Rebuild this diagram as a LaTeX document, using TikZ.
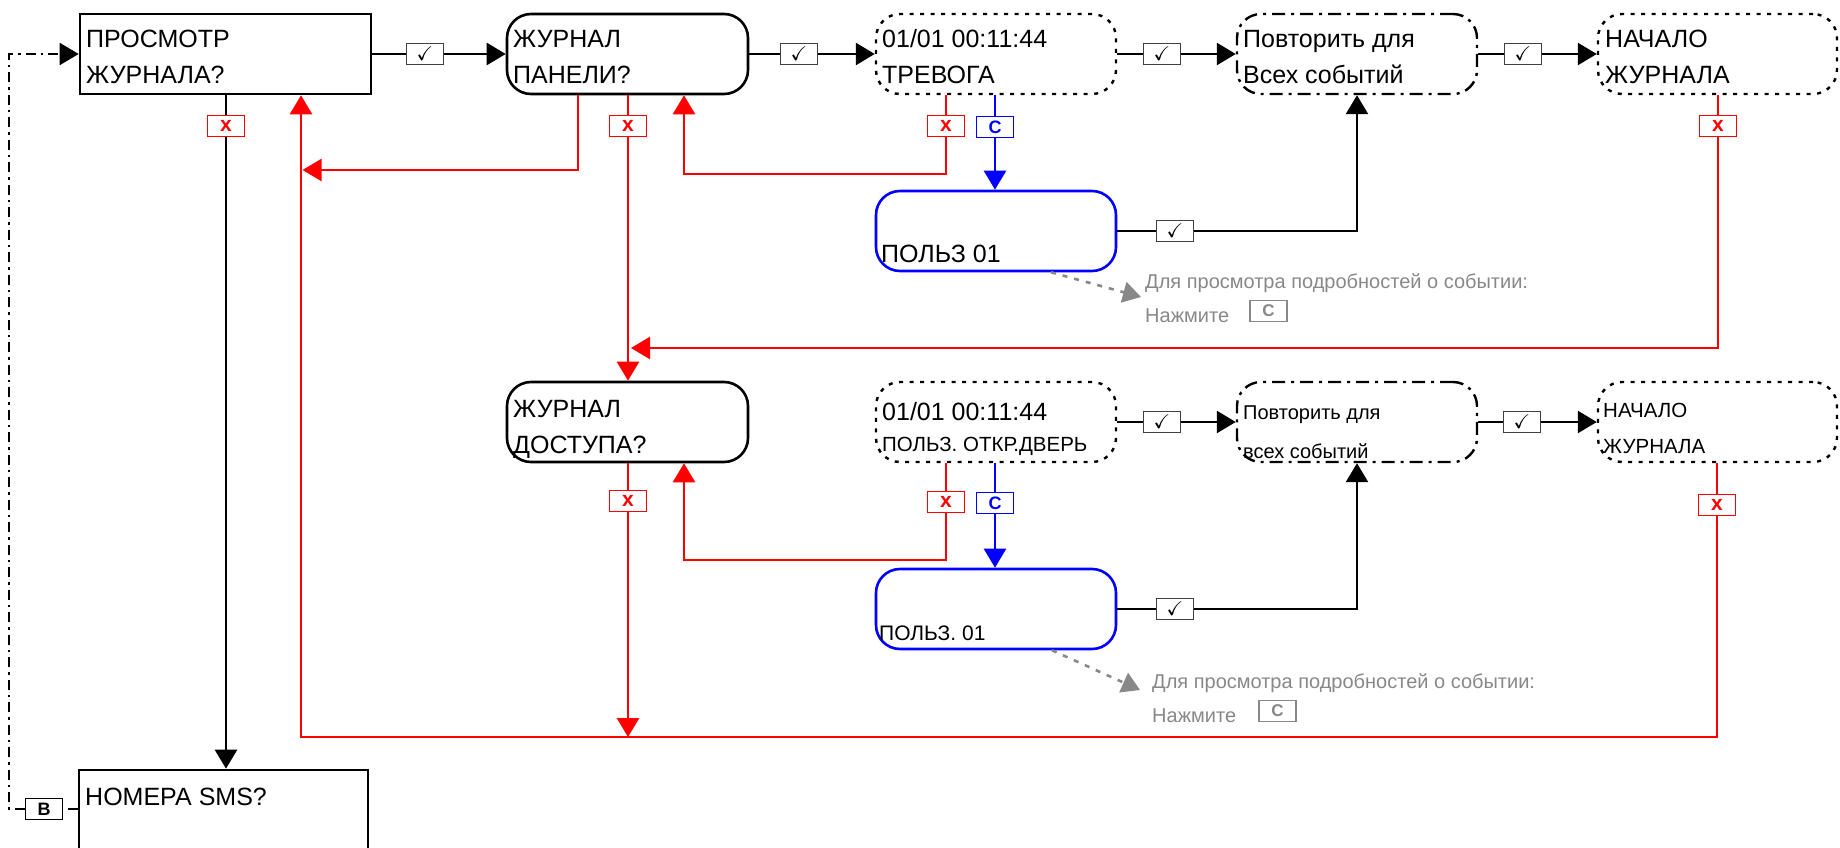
\documentclass[tikz,border=0pt]{standalone}
\usepackage{amssymb}
\usepackage{fontspec}
\setmainfont{Liberation Sans}
\usetikzlibrary{arrows.meta,positioning,calc}
\definecolor{hintgray}{RGB}{136,136,136}
\tikzset{
  panel/.style={rectangle, draw=black, line width=2.6pt, minimum height=80pt, inner sep=0pt},
  menu/.style={panel, rounded corners=24pt},
  event/.style={menu, line width=2.4pt, dash pattern=on 4pt off 6.5pt},
  loopbox/.style={menu, line width=2.4pt, dash pattern=on 13pt off 6pt on 3pt off 6pt},
  user/.style={menu, draw=blue},
  % base = baseline of the last line
  txt/.style={anchor=base west, inner sep=0pt, align=left, font=\fontsize{25}{36}\selectfont},
  txtsmall/.style={txt, font=\fontsize{20.5}{36}\selectfont},
  okkey/.style={rectangle, draw=black!75, line width=1.3pt, fill=white,
    minimum width=37pt, minimum height=21pt, inner sep=0pt, font=\fontsize{20}{20}\selectfont},
  nokey/.style={okkey, draw=red, text=red, font=\bfseries\fontsize{21}{21}\selectfont},
  ckey/.style={okkey, draw=blue, text=blue, font=\bfseries\fontsize{18}{18}\selectfont},
  bkey/.style={okkey, draw=black, text=black, font=\bfseries\fontsize{18}{18}\selectfont},
  graykey/.style={okkey, draw=hintgray, text=hintgray, font=\bfseries\fontsize{17}{17}\selectfont},
  hint/.style={anchor=base west, inner sep=0pt, text=hintgray, font=\fontsize{20}{20}\selectfont},
  conn/.style={line width=2.6pt, black},
  arr/.style={conn, -{Triangle[length=19pt,width=22pt]}},
  nline/.style={line width=2.6pt, red},
  back/.style={arr, red},
  cline/.style={line width=2.6pt, blue},
  carr/.style={arr, blue},
  ddline/.style={line width=1.8pt, dash pattern=on 10pt off 5pt on 2.5pt off 5pt},
  ddarr/.style={ddline, -{Triangle[length=19pt,width=22pt]}},
  hintarr/.style={draw=hintgray, line width=2.6pt, dash pattern=on 5pt off 7pt,
    -{Triangle[length=18pt,width=21pt]}},
}

\begin{document}
\begin{tikzpicture}[x=1pt, y=-1pt]
  \useasboundingbox (0,0) rectangle (1840,848);
  \clip (0,0) rectangle (1840,848);

  % first row
  \node[panel, minimum width=291pt] (aPanel) at (225.5,54) {};
  \node[menu, minimum width=241pt] (bPanel) at (627.5,54) {};
  \node[event, minimum width=240pt] (cEvent) at (996,54) {};
  \node[loopbox, minimum width=240pt] (dLoop) at (1357,54) {};
  \node[event, minimum width=239pt] (eEvent) at (1717.5,54) {};
  % second row
  \node[menu, minimum width=241pt] (fPanel) at (627.5,422) {};
  \node[event, minimum width=240pt] (gEvent) at (996,422) {};
  \node[loopbox, minimum width=240pt] (hLoop) at (1357,422) {};
  \node[event, minimum width=239pt] (iEvent) at (1717.5,422) {};
  % user detail screens
  \node[user, minimum width=240pt] (jUser) at (996,231) {};
  \node[user, minimum width=240pt] (kUser) at (996,609) {};
  % next menu
  \node[panel, minimum width=289pt, minimum height=96pt] (sPanel) at (223.5,818) {};

  % texts
  \node[txt] (aText) at (86,84) {ПРОСМОТР\\ЖУРНАЛА?};
  \node[txt] (bText) at (513,84) {ЖУРНАЛ\\ПАНЕЛИ?};
  \node[txt] (cText) at (882,84) {01/01 00:11:44\\ТРЕВОГА};
  \node[txt] (dText) at (1243,84) {Повторить для\\Всех событий};
  \node[txt] (eText) at (1605,84) {НАЧАЛО\\ЖУРНАЛА};
  \node[txt] (fText) at (513,453) {ЖУРНАЛ\\ДОСТУПА?};
  \node[txt, font=\fontsize{25}{31}\selectfont] (gText) at (882,451)
    {01/01 00:11:44\\{\fontsize{20.5}{31}\selectfont ПОЛЬЗ. ОТКР.ДВЕРЬ}};
  \node[txtsmall, font=\fontsize{20}{39}\selectfont] (hText) at (1243,458) {Повторить для\\всех событий};
  \node[txtsmall] (iText) at (1603,453) {НАЧАЛО\\ЖУРНАЛА};
  \node[txt] (jText) at (881,262) {ПОЛЬЗ 01};
  \node[txt, font=\fontsize{21}{21}\selectfont] (kText) at (879,640) {ПОЛЬЗ. 01};
  \node[txt] (sText) at (85,805) {НОМЕРА SMS?};

  % keys
  \node[okkey] (okAB) at (425,54) {$\checkmark$};
  \node[okkey] (okBC) at (799,54) {$\checkmark$};
  \node[okkey] (okCD) at (1162,54) {$\checkmark$};
  \node[okkey] (okDE) at (1523,54) {$\checkmark$};
  \node[okkey] (okGH) at (1162,422) {$\checkmark$};
  \node[okkey] (okHI) at (1522,422) {$\checkmark$};
  \node[okkey] (okJ) at (1175,231) {$\checkmark$};
  \node[okkey] (okK) at (1175,609) {$\checkmark$};
  \node[nokey] (noA) at (226,126) {x};
  \node[nokey] (noB) at (628,126) {x};
  \node[nokey] (noC) at (946,126) {x};
  \node[ckey] (keyC) at (995,127) {C};
  \node[nokey] (noE) at (1718,126) {x};
  \node[nokey] (noF) at (628,501) {x};
  \node[nokey] (noG) at (946,502) {x};
  \node[ckey] (keyG) at (995,503) {C};
  \node[nokey] (noI) at (1717,505) {x};
  \node[bkey] (keyB) at (44,809) {B};

  % forward steps
  \draw[conn] (aPanel.east) -- (okAB.west);
  \draw[arr] (okAB.east) -- (bPanel.west);
  \draw[conn] (bPanel.east) -- (okBC.west);
  \draw[arr] (okBC.east) -- (cEvent.west);
  \draw[conn] (cEvent.east) -- (okCD.west);
  \draw[arr] (okCD.east) -- (dLoop.west);
  \draw[conn] (dLoop.east) -- (okDE.west);
  \draw[arr] (okDE.east) -- (eEvent.west);
  \draw[conn] (gEvent.east) -- (okGH.west);
  \draw[arr] (okGH.east) -- (hLoop.west);
  \draw[conn] (hLoop.east) -- (okHI.west);
  \draw[arr] (okHI.east) -- (iEvent.west);
  \draw[conn] (jUser.east) -- (okJ.west);
  \draw[arr] (okJ.east) -| (dLoop.south);
  \draw[conn] (kUser.east) -- (okK.west);
  \draw[arr] (okK.east) -| (hLoop.south);
  \draw[conn] (aPanel.south -| noA) -- (noA.north);
  \draw[arr] (noA.south) -- (noA.south |- sPanel.north);

  % details key
  \draw[cline] (cEvent.south -| keyC) -- (keyC.north);
  \draw[carr] (keyC.south) -- (keyC.south |- jUser.north);
  \draw[cline] (gEvent.south -| keyG) -- (keyG.north);
  \draw[carr] (keyG.south) -- (keyG.south |- kUser.north);

  % going back
  \coordinate (backAll) at (301,737);
  \coordinate (backB) at (578,170);
  \coordinate (backC) at (684,174);
  \coordinate (backE) at (631,348);
  \coordinate (backG) at (684,560);
  \draw[nline] (iEvent.south -| noI) -- (noI.north);
  \draw[back] (noI.south) |- (backAll) -- (backAll |- aPanel.south);
  \draw[back] (bPanel.south -| backB) -- (backB) -- ([xshift=1.5pt]backB -| backAll);
  \draw[nline] (bPanel.south -| noB) -- (noB.north);
  \draw[back] (noB.south) -- (noB.south |- fPanel.north);
  \draw[nline] (cEvent.south -| noC) -- (noC.north);
  \draw[back] (noC.south) |- (backC) -- (backC |- bPanel.south);
  \draw[nline] (eEvent.south -| noE) -- (noE.north);
  \draw[back] (noE.south) |- (backE);
  \draw[nline] (fPanel.south -| noF) -- (noF.north);
  \draw[back] (noF.south) -- (noF.south |- backAll);
  \draw[nline] (gEvent.south -| noG) -- (noG.north);
  \draw[back] (noG.south) |- (backG) -- (backG |- fPanel.south);

  % return to the start
  \coordinate (loopLeft) at (9,809);
  \draw[ddline] (sPanel.west |- keyB) -- (keyB.east);
  \draw[ddarr] (keyB.west) -- (loopLeft) |- (aPanel.west);

  % hints
  \node[hint] (hintOneA) at (1145,288) {Для просмотра подробностей о событии:};
  \node[hint] (hintOneB) at (1145,322) {Нажмите};
  \node[graykey, anchor=south west] (hintOneKey) at ([xshift=20pt]hintOneB.base east) {C};
  \coordinate (tipOne) at (1141,297);
  \draw[hintarr] ([xshift=55pt]jUser.south) -- (tipOne);
  \node[hint] (hintTwoA) at (1152,688) {Для просмотра подробностей о событии:};
  \node[hint] (hintTwoB) at (1152,722) {Нажмите};
  \node[graykey, anchor=south west] (hintTwoKey) at ([xshift=22pt]hintTwoB.base east) {C};
  \coordinate (tipTwo) at (1140,690);
  \draw[hintarr] ([xshift=56pt]kUser.south) -- (tipTwo);
\end{tikzpicture}
\end{document}
